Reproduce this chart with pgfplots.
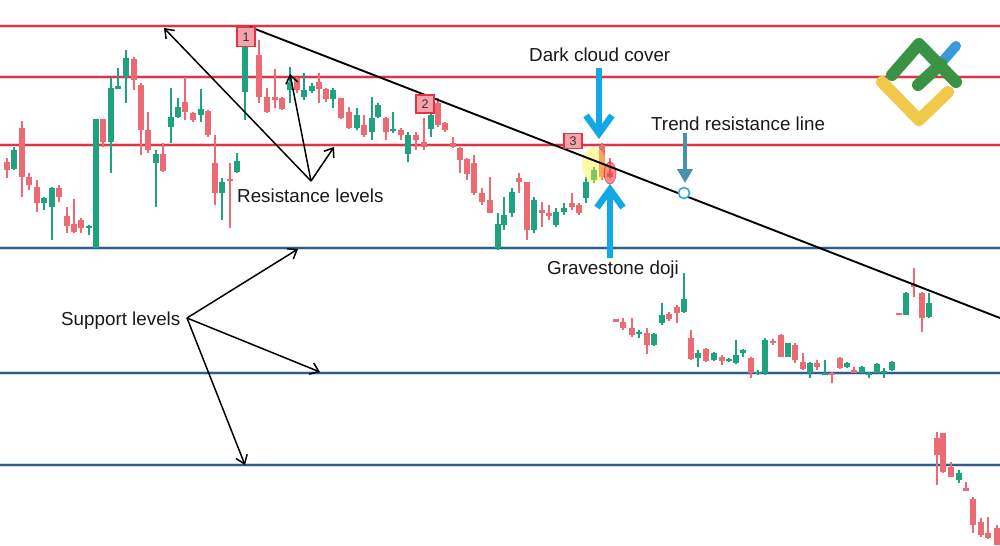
\documentclass[border=0pt]{standalone}
\usepackage{fontspec}
\setmainfont{Liberation Sans}
\usepackage{pgfplots}
\usepackage{pgfplotstable}
\pgfplotsset{compat=1.18}
\usetikzlibrary{arrows.meta}
\definecolor{candred}{HTML}{EC6A73}
\definecolor{candgreen}{HTML}{1FA37F}
\definecolor{resred}{HTML}{DC3545}
\definecolor{reshalo}{HTML}{F8CDD1}
\definecolor{supblue}{HTML}{2F5D88}
\definecolor{suphalo}{HTML}{C9DCEE}
\definecolor{cyanarrow}{HTML}{12A8E6}
\definecolor{trendarrow}{HTML}{4A8FB0}
\definecolor{circ}{HTML}{3BA5C8}
\definecolor{logogreen}{HTML}{3A9245}
\definecolor{logoblue}{HTML}{3A9AD9}
\definecolor{logoyellow}{HTML}{F0C94A}
\definecolor{mkfill}{HTML}{F4A3AA}
\definecolor{mkdraw}{HTML}{E03348}

\pgfplotstableread{
x h l t b
7 158 178 162 170
22 121 197 128 177
29 173 190 177 185
37 180 212 187 203
59 185 202 188 197
67 207 233 216 226
74 199 233 224 232
81 218 233 220 228
103 119 147 119 142
134 57 90 59 80
141 83 155 85 130
148 112 153 130 150
163 143 172 154 171
185 77 120 102 112
193 112 122 113 120
208 110 137 111 135
215 135 205 163 193
230 163 228 179 181
259 40 103 55 97
267 88 113 97 112
275 69 108 97 100
282 97 110 98 109
297 77 93 78 90
319 73 103 82 89
326 88 102 89 99
341 98 119 98 118
349 107 129 112 128
364 115 137 125 135
386 117 140 118 132
401 128 140 130 135
416 132 150 135 140
424 118 150 142 147
438 98 127 103 125
445 122 132 123 130
453 137 148 143 147
460 147 173 148 160
467 158 180 159 174
474 155 195 163 193
482 188 205 193 202
490 177 213 200 213
519 173 193 178 182
527 182 240 182 230
542 202 227 210 213
549 205 220 213 216
572 193 210 203 207
579 203 215 205 213
602 143 180 145 177
610 158 178 173 177
616 319 322 319 321.5
623 318 330 322 328
632 318 337 328 335
647 328 354 333 345
669 312 321 314 319
677 305 323 307 313
691 330 360 338 359
706 348 362 349 361
722 355 365 357 361
751 357 378 358 373
773 339 345 341 343
781 334 357 335 357
795 343 363 345 360
803 353 370 362 369
817 360 370 363 367
832 372 383 372.5 374.5
840 357 369 358 368
854 367 373 370 373
899 313 314.5 312.5 314.5
914 268 297 284 287
922 292 332 293 318
937 432 485 438 455
943 433 473 433 472
951 462 477 467 477
966 482 491 488 491
973 497 533 499 525
981 518 537 522 535
988 517 539 533 538
997 525 545 528 545
}\redtab

\pgfplotstableread{
x h l t b
14 147 170 150 169
44 197 210 198 203
52 187 240 188 207
89 225 235 226 228
96 119 248 119 248
111 77 173 88 142
118 68 88 86 88.5
126 50 103 58 77
156 150 207 154 163
171 88 143 117 127
178 98 118 107 117
201 89 122 109 115
222 178 220 182 193
237 153 173 161 172
245 33 120 43 92
290 67 103 82 90
304 73 100 90 97
312 83 93 86 91
333 88 108 90 99
357 108 130 115 128
372 97 140 118 132
378 103 118 105 117
393 112 133 129 131
408 132 162 135 154
431 103 137 115 129
498 213 250 224 248
504 197 230 215 225
512 188 217 192 213
534 197 233 200 230
556 208 227 212 225
564 203 215 208 212
586 177 203 182 198
594 167 183 170 180
639 330 338 332 334
654 333 346 334 345
662 303 325 315 323
684 273 313 299 312
698 350 367 353 358
714 352 361 353 360
729 358 362 359 361
736 340 364 355 363
743 349 357 350 353
758 370 375 372 374
765 338 375 340 373
788 343 357 343 357
810 362 378 363 373
825 360 375 372.5 374.5
847 362 368 363 367
862 366 373 367 373
869 372 378 373 375
877 363 373 364 373
884 368 378 370.5 372.5
892 361 371 362 370
906 292 315 293 315
929 293 318 303 317
959 470 483 473 480
}\greentab

\newcommand{\lab}{\fontsize{18.8bp}{22bp}\selectfont}

\begin{document}
\begin{tikzpicture}
\begin{axis}[
  width=1000bp, height=545bp, scale only axis,
  xmin=0, xmax=1000, ymin=0, ymax=545, y dir=reverse,
  hide axis, clip=true,
  candle/.style={draw=none, mark=none, error bars/.cd, y dir=plus, y explicit, error mark=none},
]
% background
\addplot[fill=white, draw=none] coordinates {(0,0) (1000,0) (1000,545) (0,545) (0,0)};

% resistance levels (red)
\addplot[reshalo, line width=4.5bp] coordinates {(0,26) (1000,26)};
\addplot[reshalo, line width=4.5bp] coordinates {(0,77) (1000,77)};
\addplot[reshalo, line width=4.5bp] coordinates {(0,145) (1000,145)};
\addplot[resred, line width=1.8bp] coordinates {(0,26) (1000,26)};
\addplot[resred, line width=1.8bp] coordinates {(0,77) (1000,77)};
\addplot[resred, line width=1.8bp] coordinates {(0,145) (1000,145)};

% support levels (blue)
\addplot[suphalo, line width=4.5bp] coordinates {(0,248) (1000,248)};
\addplot[suphalo, line width=4.5bp] coordinates {(0,373) (1000,373)};
\addplot[suphalo, line width=4.5bp] coordinates {(0,465) (1000,465)};
\addplot[supblue, line width=1.8bp] coordinates {(0,248) (1000,248)};
\addplot[supblue, line width=1.8bp] coordinates {(0,373) (1000,373)};
\addplot[supblue, line width=1.8bp] coordinates {(0,465) (1000,465)};

% wicks
\addplot[candle, error bar style={draw=candred, line width=1.2bp}]
  table[x=x, y=h, y error expr=\thisrow{l}-\thisrow{h}] {\redtab};
\addplot[candle, error bar style={draw=candgreen, line width=1.2bp}]
  table[x=x, y=h, y error expr=\thisrow{l}-\thisrow{h}] {\greentab};
% bodies
\addplot[candle, error bar style={draw=candred, line width=6bp}]
  table[x=x, y=t, y error expr=\thisrow{b}-\thisrow{t}] {\redtab};
\addplot[candle, error bar style={draw=candgreen, line width=6bp}]
  table[x=x, y=t, y error expr=\thisrow{b}-\thisrow{t}] {\greentab};

% highlights
\fill[yellow!75!white, opacity=0.45] (axis cs:594,165) ellipse [x radius=12bp, y radius=18bp];
\fill[red!80!white, opacity=0.55] (axis cs:610,173) ellipse [x radius=6bp, y radius=11bp];
\draw[red!85!black, opacity=0.5, line width=0.8bp] (axis cs:610,173) ellipse [x radius=6bp, y radius=11bp];

% trend resistance line
\addplot[black, line width=1.9bp] coordinates {(250,27) (1000,318)};

% markers
\node[draw=mkdraw, fill=mkfill, line width=1.3bp, minimum width=18bp, minimum height=19bp, inner sep=0pt, font=\fontsize{12.5bp}{13bp}\selectfont, text=black!80] at (axis cs:246,37) {1};
\node[draw=mkdraw, fill=mkfill, line width=1.3bp, minimum width=18bp, minimum height=18bp, inner sep=0pt, font=\fontsize{12.5bp}{13bp}\selectfont, text=black!80] at (axis cs:425,104) {2};
\node[draw=mkdraw, fill=mkfill, line width=1.3bp, minimum width=18bp, minimum height=15bp, inner sep=0pt, font=\fontsize{12.5bp}{13bp}\selectfont, text=black!80] at (axis cs:573,141) {3};

% black annotation arrows
\addplot[black, line width=1.5bp, -{Straight Barb[length=8bp,width=12bp]}] coordinates {(311,181) (164,28)};
\addplot[black, line width=1.5bp, -{Straight Barb[length=8bp,width=12bp]}] coordinates {(311,181) (290,74)};
\addplot[black, line width=1.5bp, -{Straight Barb[length=8bp,width=12bp]}] coordinates {(311,181) (334,147)};
\addplot[black, line width=1.5bp, -{Straight Barb[length=8bp,width=12bp]}] coordinates {(187,318) (298,249)};
\addplot[black, line width=1.5bp, -{Straight Barb[length=8bp,width=12bp]}] coordinates {(187,318) (320,372)};
\addplot[black, line width=1.5bp, -{Straight Barb[length=8bp,width=12bp]}] coordinates {(187,318) (245,465)};

% cyan arrows
\addplot[cyanarrow, line width=6.5bp, -{Straight Barb[length=18bp,width=26bp]}] coordinates {(599,68) (599,139)};
\addplot[cyanarrow, line width=6.5bp, -{Straight Barb[length=18bp,width=26bp]}] coordinates {(610,258) (610,184)};
\addplot[trendarrow, line width=4.5bp, -{Triangle[length=14bp,width=15bp]}] coordinates {(685,133) (685,183)};
\node[circle, draw=circ, fill=white, line width=1.6bp, minimum size=11bp, inner sep=0pt] at (axis cs:684,193) {};

% labels
\node[anchor=base west, inner sep=0pt, font=\lab, text=black!90] at (axis cs:529,62) {Dark cloud cover};
\node[anchor=base west, inner sep=0pt, font=\lab, text=black!90] at (axis cs:651,130) {Trend resistance line};
\node[anchor=base west, inner sep=0pt, font=\lab, text=black!90] at (axis cs:237,202) {Resistance levels};
\node[anchor=base west, inner sep=0pt, font=\lab, text=black!90] at (axis cs:61,325) {Support levels};
\node[anchor=base west, inner sep=0pt, font=\lab, text=black!90] at (axis cs:547,274) {Gravestone doji};

% logo
\draw[logoblue, line width=10bp, line cap=round] (axis cs:942,62) -- (axis cs:956,46);
\draw[logoyellow, line width=12bp, line cap=round, line join=round] (axis cs:882,82) -- (axis cs:919,120) -- (axis cs:948,92);
\draw[logogreen, line width=12bp, line cap=round, line join=round] (axis cs:892,75) -- (axis cs:919,44) -- (axis cs:956,82);
\draw[logogreen, line width=12bp, line cap=round] (axis cs:918,85) -- (axis cs:941,64);
\end{axis}
\end{tikzpicture}
\end{document}
